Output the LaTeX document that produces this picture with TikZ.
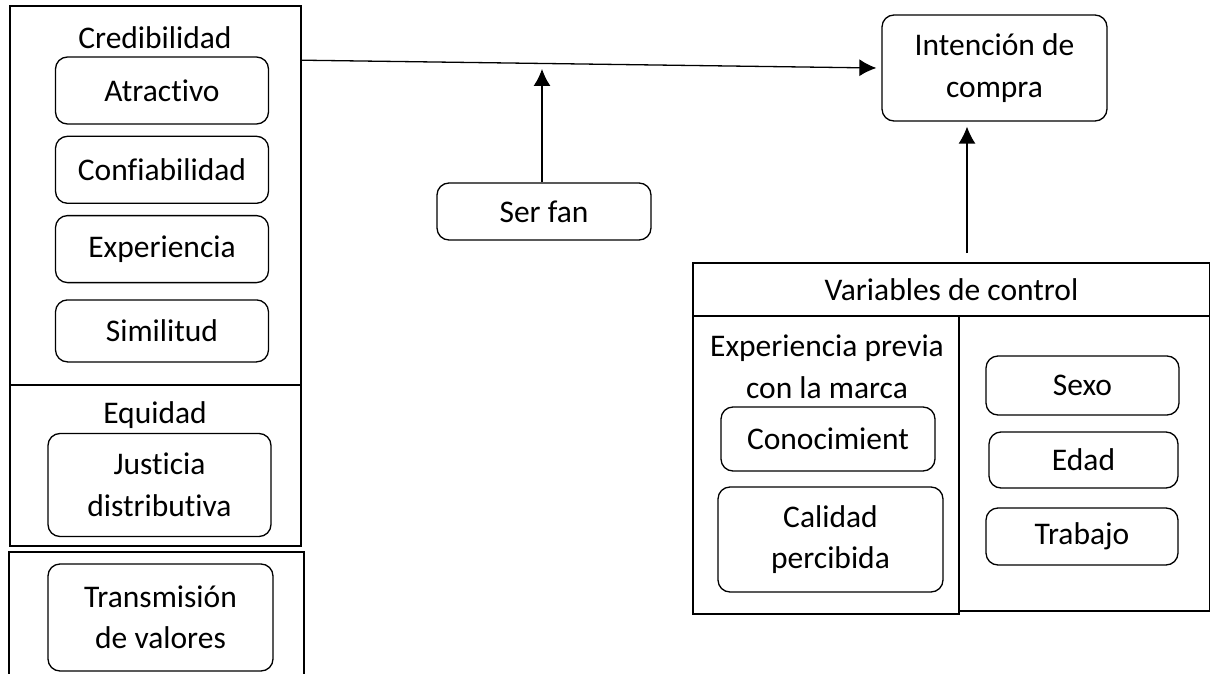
\documentclass[tikz,border=0pt]{standalone}
\usepackage{fontspec}
\setmainfont{Carlito}[Ligatures=NoCommon]
\usetikzlibrary{positioning,arrows.meta}

\begin{document}
\begin{tikzpicture}[x=1pt,y=-1pt,
	box/.style={
		draw,
		rectangle, rounded corners=12pt,
		line width=1.3pt,
		align=center,
		inner sep=2pt
	},
	cbox/.style={
		box,
		minimum width=213pt,
		minimum height=67pt
	},
	frame/.style={
		draw,
		rectangle,
		line width=1.6pt,
		inner sep=0pt
	},
	conn/.style={
		-{Latex[length=17pt,width=17pt]},
		line width=1.3pt
	},
	font=\fontsize{31.5pt}{41.5pt}\selectfont,
	node distance=11pt
	]
	\useasboundingbox (0,0) rectangle (1210,674);
	
	% Credibilidad
	\node[frame, minimum width=291pt, minimum height=379pt] 
	(cred) at (155.5,195.5) {};
	\node (credlbl) at (155,38) {Credibilidad};
	\node[cbox] (atrac) at (162,90.5) {Atractivo};
	\node[cbox, below=of atrac] (confi) {Confiabilidad};
	\node[cbox, below=of confi] (expe) {Experiencia};
	\node[cbox, minimum height=62pt, below=16pt of expe] (simil) {Similitud};
	
	% Equidad
	\node[frame, minimum width=291pt, minimum height=161pt] 
	(equi) at (155.5,465.5) {};
	\node (equilbl) at (155,415) {Equidad};
	\node[box, minimum width=223pt, minimum height=103pt] 
	(justi) at (159.5,485) {Justicia\\distributiva};
	
	% Transmision
	\node[frame, minimum width=295pt, minimum height=140pt] 
	(trans) at (156.5,622) {};
	\node[box, minimum width=225pt, minimum height=107pt] 
	(valores) at (160.5,617.5) {Transmisión\\de valores};
	
	\node[box, minimum width=225pt, minimum height=106pt] 
	(inten) at (994.5,68) {Intención de\\compra};
	\node[box, minimum width=214pt, minimum height=57pt] 
	(fan) at (544,211.5) {Ser fan};
	
	% Variables de control
	\node[frame, minimum width=517pt, minimum height=53pt] 
	(vars) at (951.5,289.5) {Variables de control};
	\node[frame, minimum width=266pt, minimum height=298pt] 
	(expbox) at (826,465) {};
	\node[frame, minimum width=251pt, minimum height=295pt] 
	(socbox) at (1084.5,463.5) {};
	\node[align=center] (explbl) at (827,367) {Experiencia previa\\con la marca};
	\node[box, minimum width=214pt, minimum height=64pt] 
	(conoc) at (828,439) {Conocimient};
	\node[box, minimum width=225pt, minimum height=105pt] 
	(calid) at (830.5,539.5) {Calidad\\percibida};
	\node[box, minimum width=193pt, minimum height=59pt] 
	(sexo) at (1082.5,385.5) {Sexo};
	\node[box, minimum width=189pt, minimum height=56pt] 
	(edad) at (1083.5,460) {Edad};
	\node[box, minimum width=192pt, minimum height=57pt] 
	(trab) at (1082,536.5) {Trabajo};
	
	\coordinate (fantip) at (542,69);
	
	\draw[conn] ([yshift=-55pt]cred.north east) -- ([xshift=-5pt]inten.west);
	\draw[conn] ([xshift=-2pt]fan.north) -- (fantip);
	\draw[conn] ([xshift=15.5pt,yshift=9pt]vars.north) -- ([xshift=-27.5pt,yshift=-5pt]inten.south);
\end{tikzpicture}
\end{document}
